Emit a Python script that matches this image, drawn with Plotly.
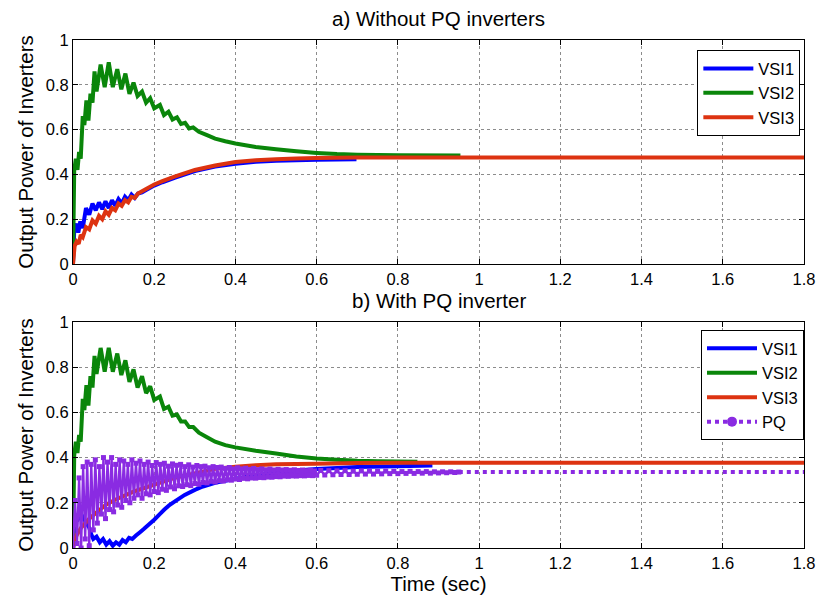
import plotly.graph_objects as go

# ---------------- data ----------------
# a) Without PQ inverters
t_vsi1_a = [0, 0.003, 0.008, 0.013, 0.018, 0.024, 0.032, 0.040, 0.048, 0.056, 0.064, 0.072, 0.080,
            0.088, 0.096, 0.104, 0.112, 0.120, 0.128, 0.136, 0.144, 0.152, 0.160, 0.17, 0.18, 0.2,
            0.22, 0.25, 0.3, 0.35, 0.4, 0.45, 0.5, 0.55, 0.6, 0.65, 0.698]
vsi1_a = [0.0, 0.15, 0.18, 0.14, 0.19, 0.16, 0.25, 0.22, 0.27, 0.24, 0.275, 0.245, 0.28,
          0.25, 0.285, 0.26, 0.29, 0.27, 0.30, 0.285, 0.31, 0.295, 0.315, 0.32, 0.33, 0.35,
          0.365, 0.385, 0.415, 0.435, 0.448, 0.456, 0.461, 0.463, 0.465, 0.467, 0.468]

t_vsi2_a = [0, 0.003, 0.007, 0.011, 0.015, 0.019, 0.024, 0.028, 0.033, 0.038, 0.043, 0.048, 0.053,
            0.058, 0.068, 0.078, 0.088, 0.098, 0.109, 0.119, 0.129, 0.139, 0.149, 0.159, 0.170,
            0.180, 0.190, 0.200, 0.214, 0.224, 0.235, 0.245, 0.256, 0.266, 0.276, 0.286, 0.296,
            0.31, 0.33, 0.35, 0.375, 0.4, 0.45, 0.5, 0.55, 0.6, 0.65, 0.7, 0.8, 0.954]
vsi2_a = [0.0, 0.42, 0.47, 0.42, 0.50, 0.47, 0.66, 0.62, 0.73, 0.64, 0.76, 0.72, 0.86,
          0.77, 0.89, 0.79, 0.90, 0.79, 0.87, 0.78, 0.85, 0.76, 0.81, 0.75, 0.77,
          0.72, 0.74, 0.695, 0.71, 0.665, 0.68, 0.645, 0.655, 0.625, 0.63, 0.605, 0.61,
          0.59, 0.575, 0.56, 0.548, 0.538, 0.522, 0.512, 0.503, 0.496, 0.491, 0.488, 0.485, 0.484]

t_vsi3_a = [0, 0.004, 0.009, 0.014, 0.019, 0.024, 0.032, 0.040, 0.048, 0.056, 0.064, 0.072, 0.080,
            0.088, 0.096, 0.104, 0.112, 0.120, 0.128, 0.136, 0.144, 0.152, 0.16, 0.17, 0.18, 0.2,
            0.22, 0.25, 0.3, 0.35, 0.4, 0.45, 0.5, 0.55, 0.6, 0.7, 0.8, 1.0, 1.2, 1.4, 1.6, 1.8]
vsi3_a = [0.0, 0.08, 0.10, 0.09, 0.13, 0.12, 0.165, 0.155, 0.195, 0.18, 0.215, 0.2, 0.235,
          0.22, 0.25, 0.24, 0.27, 0.26, 0.285, 0.275, 0.30, 0.295, 0.315, 0.325, 0.335, 0.355,
          0.37, 0.39, 0.42, 0.44, 0.455, 0.463, 0.468, 0.471, 0.473, 0.475, 0.476, 0.476,
          0.476, 0.476, 0.476, 0.476]

# b) With PQ inverter
t_vsi1_b = [0, 0.005, 0.01, 0.02, 0.03, 0.04, 0.045, 0.05, 0.058, 0.066, 0.074, 0.082, 0.09,
            0.098, 0.106, 0.114, 0.122, 0.13, 0.138, 0.146, 0.155, 0.165, 0.175, 0.1875, 0.2,
            0.2125, 0.225, 0.2375, 0.25, 0.275, 0.3, 0.32, 0.35, 0.4, 0.45, 0.5, 0.55, 0.6,
            0.7, 0.8, 0.885]
vsi1_b = [0.0, 0.15, 0.12, 0.15, 0.12, 0.09, 0.06, 0.04, 0.05, 0.025, 0.04, 0.015, 0.03,
          0.01, 0.025, 0.015, 0.035, 0.025, 0.045, 0.04, 0.055, 0.07, 0.085, 0.105, 0.125,
          0.148, 0.17, 0.19, 0.205, 0.235, 0.257, 0.272, 0.288, 0.306, 0.322, 0.333, 0.343,
          0.35, 0.358, 0.362, 0.365]

t_vsi2_b = [0, 0.003, 0.007, 0.011, 0.015, 0.019, 0.024, 0.028, 0.033, 0.038, 0.043, 0.048, 0.053,
            0.058, 0.068, 0.078, 0.088, 0.098, 0.109, 0.119, 0.129, 0.139, 0.149, 0.159, 0.170,
            0.180, 0.190, 0.200, 0.214, 0.224, 0.235, 0.245, 0.256, 0.266, 0.276, 0.286, 0.296,
            0.31, 0.33, 0.35, 0.375, 0.4, 0.45, 0.5, 0.55, 0.6, 0.65, 0.7, 0.75, 0.8, 0.848]
vsi2_b = [0.0, 0.41, 0.47, 0.42, 0.50, 0.47, 0.66, 0.61, 0.72, 0.63, 0.76, 0.71, 0.85,
          0.77, 0.885, 0.78, 0.885, 0.78, 0.86, 0.765, 0.83, 0.735, 0.79, 0.71, 0.76,
          0.685, 0.715, 0.655, 0.67, 0.615, 0.625, 0.585, 0.59, 0.56, 0.56, 0.535, 0.535,
          0.51, 0.49, 0.47, 0.455, 0.445, 0.43, 0.418, 0.405, 0.396, 0.39, 0.386, 0.384,
          0.383, 0.382]

t_vsi3_b = [0, 0.005, 0.01, 0.02, 0.04, 0.06, 0.08, 0.1, 0.15, 0.2, 0.25, 0.3, 0.35, 0.4,
            0.45, 0.5, 0.6, 0.7, 0.8, 1.0, 1.2, 1.4, 1.6, 1.8]
vsi3_b = [0.0, 0.04, 0.06, 0.09, 0.13, 0.16, 0.19, 0.21, 0.25, 0.28, 0.31, 0.33, 0.35, 0.36,
          0.366, 0.37, 0.373, 0.376, 0.377, 0.377, 0.377, 0.377, 0.377, 0.377]

# PQ inverter output, sampled every 5 ms up to 0.6 s, then every 10 ms up to 0.95 s
t_pq = ([round(0.005 * i, 3) for i in range(121)]
        + [round(0.61 + 0.01 * i, 2) for i in range(35)] + [1.8])
pq = [0.00, 0.21, 0.02, 0.31, 0.00, 0.36, 0.04, 0.38, 0.01, 0.37,
      0.08, 0.39, 0.11, 0.36, 0.15, 0.40, 0.13, 0.38, 0.17, 0.40,
      0.16, 0.37, 0.19, 0.39, 0.18, 0.385, 0.21, 0.37, 0.20, 0.39,
      0.22, 0.375, 0.235, 0.385, 0.22, 0.37, 0.24, 0.38, 0.235, 0.365,
      0.25, 0.378, 0.245, 0.37, 0.26, 0.375, 0.255, 0.362, 0.27, 0.372,
      0.262, 0.366, 0.275, 0.37, 0.272, 0.36, 0.28, 0.368, 0.276, 0.358,
      0.285, 0.365, 0.282, 0.36, 0.29, 0.362, 0.288, 0.355, 0.295, 0.36,
      0.292, 0.356, 0.298, 0.358, 0.296, 0.352, 0.302, 0.356, 0.30, 0.35,
      0.305, 0.355, 0.303, 0.35, 0.308, 0.353, 0.306, 0.348, 0.31, 0.352,
      0.309, 0.347, 0.312, 0.35, 0.311, 0.346, 0.314, 0.349, 0.313, 0.345,
      0.316, 0.348, 0.315, 0.345, 0.318, 0.347, 0.317, 0.344, 0.319, 0.346,
      0.318, 0.343, 0.32, 0.345, 0.319, 0.342, 0.321, 0.344, 0.32, 0.341,
      0.322,
      0.343, 0.323, 0.342, 0.324, 0.341, 0.325, 0.342, 0.325, 0.34, 0.326,
      0.341, 0.327, 0.34, 0.327, 0.339, 0.328, 0.34, 0.329, 0.339, 0.329,
      0.338, 0.33, 0.339, 0.33, 0.338, 0.331, 0.338, 0.331, 0.337, 0.332,
      0.337, 0.333, 0.337, 0.334, 0.336,
      0.336]

x_ticks = [0, 0.2, 0.4, 0.6, 0.8, 1, 1.2, 1.4, 1.6, 1.8]
x_tick_text = ["0", "0.2", "0.4", "0.6", "0.8", "1", "1.2", "1.4", "1.6", "1.8"]
y_ticks = [0, 0.2, 0.4, 0.6, 0.8, 1]
y_tick_text = ["0", "0.2", "0.4", "0.6", "0.8", "1"]

titles = ["a) Without PQ inverters", "b) With PQ inverter"]
y_title = "Output Power of Inverters"
x_title = "Time (sec)"

# ---------------- styling ----------------
BLUE = "#0000ff"
GREEN = "#0a860a"
RED = "#dd3311"
PURPLE = "#8a2be2"
FONT = "Arial, Liberation Sans, sans-serif"
LW = 4

fig = go.Figure()

def add_line(x, y, name, color, xa, ya, leg, showlegend=True):
    fig.add_trace(go.Scatter(
        x=x, y=y, name=name, mode="lines",
        line=dict(color=color, width=LW, simplify=False),
        xaxis=xa, yaxis=ya, legend=leg, showlegend=showlegend,
        hoverinfo="skip"))

add_line(t_vsi1_a, vsi1_a, "VSI1", BLUE, "x", "y", "legend")
add_line(t_vsi2_a, vsi2_a, "VSI2", GREEN, "x", "y", "legend")
add_line(t_vsi3_a, vsi3_a, "VSI3", RED, "x", "y", "legend")

add_line(t_vsi1_b, vsi1_b, "VSI1", BLUE, "x2", "y2", "legend2")
add_line(t_vsi2_b, vsi2_b, "VSI2", GREEN, "x2", "y2", "legend2")
add_line(t_vsi3_b, vsi3_b, "VSI3", RED, "x2", "y2", "legend2")

# PQ: dense oscillating part (a dot marker at every sample) and the steady dotted tail
n_dense = len(t_pq) - 1
fig.add_trace(go.Scatter(
    x=t_pq[:n_dense], y=pq[:n_dense], name="PQ", mode="lines+markers",
    line=dict(color=PURPLE, width=2.3, simplify=False),
    marker=dict(color=PURPLE, size=5, symbol="square"),
    xaxis="x2", yaxis="y2", legend="legend2", showlegend=False, hoverinfo="skip"))
fig.add_trace(go.Scatter(
    x=t_pq[n_dense - 1:], y=pq[n_dense - 1:], name="PQ", mode="lines",
    line=dict(color=PURPLE, width=LW, dash="dot", simplify=False),
    xaxis="x2", yaxis="y2", legend="legend2", showlegend=False, hoverinfo="skip"))
# legend entry for PQ (dotted line with a dot marker)
fig.add_trace(go.Scatter(
    x=[None], y=[None], name="PQ", mode="lines+markers",
    line=dict(color=PURPLE, width=LW, dash="dot"),
    marker=dict(color=PURPLE, size=10, symbol="circle"),
    xaxis="x2", yaxis="y2", legend="legend2"))

axis_common = dict(
    showline=True, linecolor="black", linewidth=1, mirror="ticks",
    ticks="inside", ticklen=5, tickcolor="black", tickwidth=1,
    showgrid=True, gridcolor="#8c8c8c", griddash="dot", gridwidth=1,
    zeroline=False, tickfont=dict(family=FONT, size=16.5, color="black"),
)

TFS = 20.5

fig.update_layout(
    width=827, height=602,
    margin=dict(l=73, r=15, t=40, b=54),
    paper_bgcolor="white", plot_bgcolor="white",
    font=dict(family=FONT, color="black"),
    xaxis=dict(domain=[0, 1], anchor="y", range=[0, 1.8], tickvals=x_ticks,
               ticktext=x_tick_text, **axis_common),
    yaxis=dict(domain=[0.559, 1], anchor="x", range=[0, 1], tickvals=y_ticks,
               ticktext=y_tick_text,
               title=dict(text=y_title, font=dict(family=FONT, size=TFS), standoff=6),
               **axis_common),
    xaxis2=dict(domain=[0, 1], anchor="y2", range=[0, 1.8], tickvals=x_ticks,
                ticktext=x_tick_text,
                title=dict(text=x_title, font=dict(family=FONT, size=TFS), standoff=2),
                **axis_common),
    yaxis2=dict(domain=[0, 0.445], anchor="x2", range=[0, 1], tickvals=y_ticks,
                ticktext=y_tick_text,
                title=dict(text=y_title, font=dict(family=FONT, size=TFS), standoff=6),
                **axis_common),
    legend=dict(x=0.995, y=0.98, xanchor="right", yanchor="top",
                bgcolor="white", bordercolor="black", borderwidth=1,
                font=dict(family=FONT, size=16.5), itemwidth=50, tracegroupgap=0),
    legend2=dict(x=1.0, y=0.429, xanchor="right", yanchor="top",
                 bgcolor="white", bordercolor="black", borderwidth=1,
                 font=dict(family=FONT, size=16.5), itemwidth=50, tracegroupgap=0),
    showlegend=True,
    annotations=[
        dict(text=titles[0], x=0.5, y=1.043, xref="paper", yref="paper",
             showarrow=False, font=dict(family=FONT, size=TFS), yanchor="middle"),
        dict(text=titles[1], x=0.5, y=0.488, xref="paper", yref="paper",
             showarrow=False, font=dict(family=FONT, size=TFS), yanchor="middle"),
    ],
)

fig.write_html("out.html")
